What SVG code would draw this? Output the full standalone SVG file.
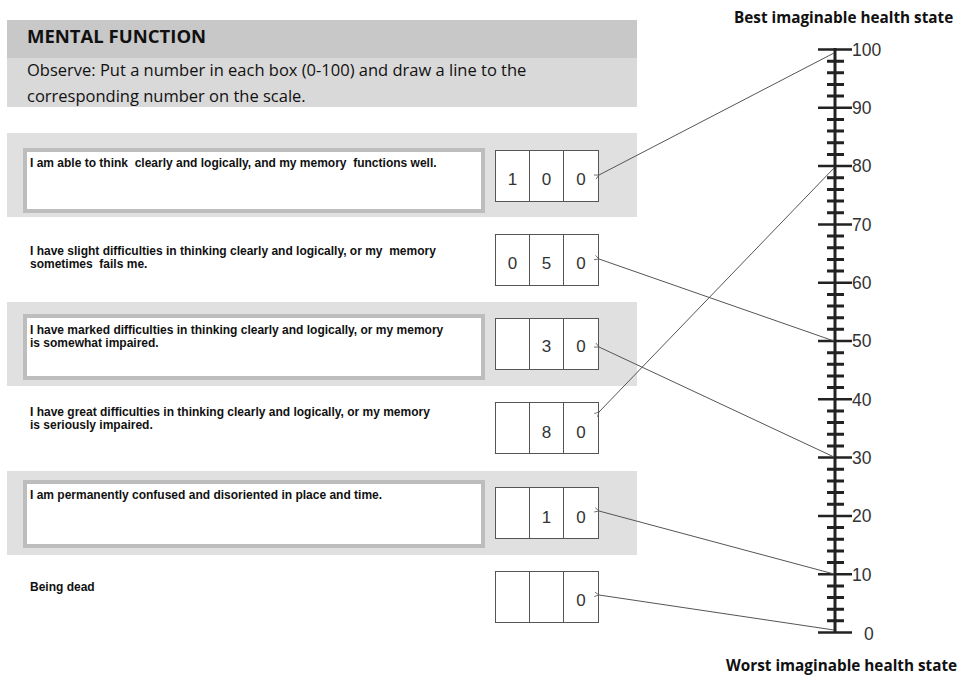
<svg xmlns="http://www.w3.org/2000/svg" width="961" height="680" viewBox="0 0 961 680">
<defs>
<marker id="arr" viewBox="0 0 8 8" refX="1" refY="4" markerWidth="6" markerHeight="6" orient="auto-start-reverse" markerUnits="userSpaceOnUse">
<path d="M7,1 L1,4 L7,7" fill="none" stroke="#555" stroke-width="1"/>
</marker>
<style>
.band{fill:#e0e0e0}
.inner{fill:#fff;stroke:#bdbdbd;stroke-width:4}
.stmt{font-family:"Liberation Sans",Arial,sans-serif;font-weight:bold;font-size:12px;fill:#111;white-space:pre}
.cell{fill:#fff;stroke:#555;stroke-width:1}
.dig{font-family:"Liberation Sans",Arial,sans-serif;font-size:17px;fill:#333;text-anchor:middle}
.conn{stroke:#555;stroke-width:1;fill:none}
.axis{stroke:#222;stroke-width:3}
.maj{stroke:#222;stroke-width:2.5}
.min{stroke:#222;stroke-width:3}
.lab{font-family:"Liberation Sans",Arial,sans-serif;font-size:17.5px;fill:#333}
.cap{font-family:"Open Sans","Liberation Sans",sans-serif;font-weight:bold;font-size:15.3px;fill:#111}
</style>
</defs>
<rect width="961" height="680" fill="#fff"/>

<g id="header">
<rect x="7" y="20" width="630" height="38" fill="#c8c8c8"/>
<rect x="7" y="58" width="630" height="49" fill="#d9d9d9"/>
<text x="27" y="43" font-family="'Open Sans','Liberation Sans',sans-serif" font-weight="bold" font-size="18.5" fill="#111">MENTAL FUNCTION</text>
<text x="27" y="76" font-family="'Open Sans','Liberation Sans',sans-serif" font-size="16.5" fill="#111">Observe: Put a number in each box (0-100) and draw a line to the</text>
<text x="27" y="102" font-family="'Open Sans','Liberation Sans',sans-serif" font-size="16.5" fill="#111">corresponding number on the scale.</text>
</g>

<g id="row1">
<rect class="band" x="7" y="133" width="630" height="84"/>
<rect class="inner" x="25" y="150" width="458" height="61"/>
<text class="stmt" x="30" y="167" xml:space="preserve">I am able to think  clearly and logically, and my memory  functions well.</text>
<rect class="cell" x="495.5" y="150.5" width="34" height="51"/>
<rect class="cell" x="529.5" y="150.5" width="34" height="51"/>
<rect class="cell" x="563.5" y="150.5" width="35" height="51"/>
<text class="dig" x="512.5" y="185">1</text><text class="dig" x="546.5" y="185">0</text><text class="dig" x="581" y="185">0</text>
</g>

<g id="row2">
<text class="stmt" x="30" y="255" xml:space="preserve">I have slight difficulties in thinking clearly and logically, or my  memory</text>
<text class="stmt" x="30" y="268" xml:space="preserve">sometimes  fails me.</text>
<rect class="cell" x="495.5" y="234.5" width="34" height="51"/>
<rect class="cell" x="529.5" y="234.5" width="34" height="51"/>
<rect class="cell" x="563.5" y="234.5" width="35" height="51"/>
<text class="dig" x="512.5" y="269">0</text><text class="dig" x="546.5" y="269">5</text><text class="dig" x="581" y="269">0</text>
</g>

<g id="row3">
<rect class="band" x="7" y="302" width="630" height="84"/>
<rect class="inner" x="25" y="316" width="458" height="62"/>
<text class="stmt" x="30" y="334">I have marked difficulties in thinking clearly and logically, or my memory</text>
<text class="stmt" x="30" y="347">is somewhat impaired.</text>
<rect class="cell" x="495.5" y="318.5" width="34" height="51"/>
<rect class="cell" x="529.5" y="318.5" width="34" height="51"/>
<rect class="cell" x="563.5" y="318.5" width="35" height="51"/>
<text class="dig" x="546.5" y="352">3</text><text class="dig" x="581" y="352">0</text>
</g>

<g id="row4">
<text class="stmt" x="30" y="416">I have great difficulties in thinking clearly and logically, or my memory</text>
<text class="stmt" x="30" y="429">is seriously impaired.</text>
<rect class="cell" x="495.5" y="402.5" width="34" height="51"/>
<rect class="cell" x="529.5" y="402.5" width="34" height="51"/>
<rect class="cell" x="563.5" y="402.5" width="35" height="51"/>
<text class="dig" x="546.5" y="438">8</text><text class="dig" x="581" y="438">0</text>
</g>

<g id="row5">
<rect class="band" x="7" y="471" width="630" height="84"/>
<rect class="inner" x="25" y="482" width="458" height="64"/>
<text class="stmt" x="30" y="499">I am permanently confused and disoriented in place and time.</text>
<rect class="cell" x="495.5" y="487.5" width="34" height="51"/>
<rect class="cell" x="529.5" y="487.5" width="34" height="51"/>
<rect class="cell" x="563.5" y="487.5" width="35" height="51"/>
<text class="dig" x="546.5" y="523">1</text><text class="dig" x="581" y="523">0</text>
</g>

<g id="row6">
<text class="stmt" x="30" y="591">Being dead</text>
<rect class="cell" x="495.5" y="571.5" width="34" height="51"/>
<rect class="cell" x="529.5" y="571.5" width="34" height="51"/>
<rect class="cell" x="563.5" y="571.5" width="35" height="51"/>
<text class="dig" x="581" y="606">0</text>
</g>

<g id="scale">
<text class="cap" x="734" y="23">Best imaginable health state</text>
<text class="cap" x="726" y="671">Worst imaginable health state</text>
<line class="axis" x1="835" y1="48" x2="835" y2="633"/>
<g id="majors">
<line class="maj" x1="818" y1="49.5" x2="852" y2="49.5"/>
<line class="maj" x1="818" y1="107.8" x2="852" y2="107.8"/>
<line class="maj" x1="818" y1="166.1" x2="852" y2="166.1"/>
<line class="maj" x1="818" y1="224.4" x2="852" y2="224.4"/>
<line class="maj" x1="818" y1="282.7" x2="852" y2="282.7"/>
<line class="maj" x1="818" y1="341" x2="852" y2="341"/>
<line class="maj" x1="818" y1="399.3" x2="852" y2="399.3"/>
<line class="maj" x1="818" y1="457.6" x2="852" y2="457.6"/>
<line class="maj" x1="818" y1="515.9" x2="852" y2="515.9"/>
<line class="maj" x1="818" y1="574.2" x2="852" y2="574.2"/>
<line class="maj" x1="818" y1="632.5" x2="852" y2="632.5"/>
</g>
<g id="minors">
<path class="min" d="M827,61.2H844M827,72.8H844M827,84.5H844M827,96.1H844
M827,119.5H844M827,131.1H844M827,142.8H844M827,154.4H844
M827,177.8H844M827,189.4H844M827,201.1H844M827,212.7H844
M827,236.1H844M827,247.7H844M827,259.4H844M827,271H844
M827,294.4H844M827,306H844M827,317.7H844M827,329.3H844
M827,352.7H844M827,364.3H844M827,376H844M827,387.6H844
M827,411H844M827,422.6H844M827,434.3H844M827,445.9H844
M827,469.3H844M827,480.9H844M827,492.6H844M827,504.2H844
M827,527.6H844M827,539.2H844M827,550.9H844M827,562.5H844
M827,585.9H844M827,597.5H844M827,609.2H844M827,620.8H844"/>
</g>
<g id="labels">
<text class="lab" x="852" y="56">100</text>
<text class="lab" x="852" y="114">90</text>
<text class="lab" x="852" y="172">80</text>
<text class="lab" x="852" y="231">70</text>
<text class="lab" x="852" y="289">60</text>
<text class="lab" x="852" y="347">50</text>
<text class="lab" x="852" y="406">40</text>
<text class="lab" x="852" y="464">30</text>
<text class="lab" x="852" y="522">20</text>
<text class="lab" x="852" y="581">10</text>
<text class="lab" x="864" y="640">0</text>
</g>
</g>

<g id="connectors">
<line class="conn" x1="599" y1="175" x2="834" y2="53" marker-start="url(#arr)"/>
<line class="conn" x1="599" y1="259" x2="834" y2="341" marker-start="url(#arr)"/>
<line class="conn" x1="599" y1="347" x2="834" y2="457" marker-start="url(#arr)"/>
<line class="conn" x1="599" y1="412" x2="834" y2="168" marker-start="url(#arr)"/>
<line class="conn" x1="599" y1="511" x2="834" y2="574" marker-start="url(#arr)"/>
<line class="conn" x1="599" y1="595" x2="834" y2="630" marker-start="url(#arr)"/>
</g>
</svg>
